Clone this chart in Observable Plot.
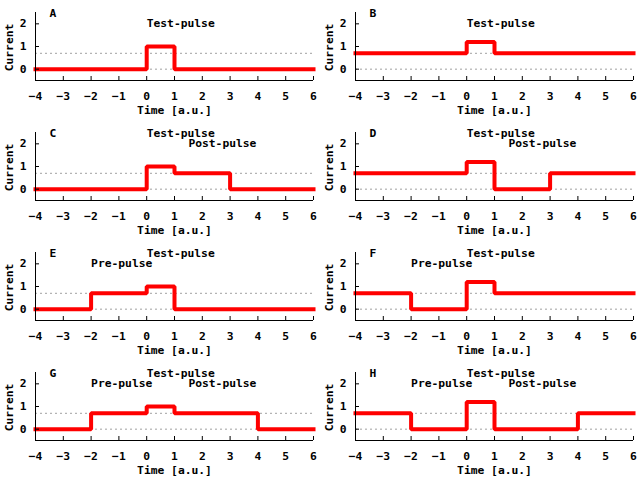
<!DOCTYPE html>
<html>
<head>
<meta charset="utf-8">
<script src="https://cdn.jsdelivr.net/npm/d3@7"></script>
<script src="https://cdn.jsdelivr.net/npm/@observablehq/plot@0.6"></script>
<style>
  html, body { margin: 0; padding: 0; background: #fff; }
  #grid { display: grid; grid-template-columns: 320px 320px; width: 640px; }
  #grid svg { display: block; }
</style>
</head>
<body>
<div id="grid"></div>
<script>
const letters = ["A", "B", "C", "D", "E", "F", "G", "H"];
const stepTimes = [
  [-4, 0, 1, 6],
  [-4, 0, 1, 6],
  [-4, 0, 1, 3, 6],
  [-4, 0, 1, 3, 6],
  [-4, -2, 0, 1, 6],
  [-4, -2, 0, 1, 6],
  [-4, -2, 0, 1, 4, 6],
  [-4, -2, 0, 1, 4, 6]
];
const stepLevels = [
  [0, 1, 0, 0],
  [0.7, 1.2, 0.7, 0.7],
  [0, 1, 0.7, 0, 0],
  [0.7, 1.2, 0, 0.7, 0.7],
  [0, 0.7, 1, 0, 0],
  [0.7, 0, 1.2, 0.7, 0.7],
  [0, 0.7, 1, 0.7, 0, 0],
  [0.7, 0, 1.2, 0, 0.7, 0.7]
];
const annTexts = [
  ["Test-pulse"],
  ["Test-pulse"],
  ["Test-pulse", "Post-pulse"],
  ["Test-pulse", "Post-pulse"],
  ["Test-pulse", "Pre-pulse"],
  ["Test-pulse", "Pre-pulse"],
  ["Test-pulse", "Pre-pulse", "Post-pulse"],
  ["Test-pulse", "Pre-pulse", "Post-pulse"]
];
const annX = [
  [0], [0], [0, 1.5], [0, 1.5], [0, -2], [0, -2], [0, -2, 1.5], [0, -2, 1.5]
];
const annY = [
  [2], [2], [2.45, 2], [2.45, 2], [2.45, 2], [2.45, 2], [2.45, 2, 2], [2.45, 2, 2]
];
const letterX = -3.5;
const letterY = 2.45;
const refLevels = [0, 0.7];
const xTicks = [-4, -3, -2, -1, 0, 1, 2, 3, 4, 5, 6];
const yTicks = [0, 1, 2];
const xDomain = [-4, 6];
const yDomain = [-0.5, 2.5];

const font = "'DejaVu Sans Mono', monospace";
const container = document.getElementById("grid");

letters.forEach((letter, i) => {
  const steps = stepTimes[i].map((t, j) => ({t, v: stepLevels[i][j]}));
  const anns = annTexts[i].map((s, j) => ({s, x: annX[i][j], y: annY[i][j]}));
  const chart = Plot.plot({
    width: 320,
    height: 120,
    marginLeft: 35,
    marginRight: 7,
    marginTop: 12,
    marginBottom: 40,
    style: {fontFamily: font, fontSize: "11.3px", fontWeight: "bold", background: "#fff", color: "#000"},
    x: {domain: xDomain},
    y: {domain: yDomain},
    marks: [
      Plot.ruleY(refLevels, {stroke: "#a0a0a0", strokeWidth: 1, strokeDasharray: "2,3"}),
      Plot.line(steps, {x: "t", y: "v", curve: "step-after", stroke: "#ff0000", strokeWidth: 4, strokeLinecap: "square", strokeLinejoin: "miter"}),
      Plot.ruleY([yDomain[0]], {stroke: "#000", strokeWidth: 1}),
      Plot.ruleX([xDomain[0]], {stroke: "#000", strokeWidth: 1}),
      Plot.tickX(xTicks, {x: (d) => d, stroke: "#000", strokeWidth: 1, insetTop: 64}),
      Plot.tickY(yTicks, {y: (d) => d, stroke: "#000", strokeWidth: 1, insetRight: 274}),
      Plot.axisX({ticks: xTicks, tickSize: 0, tickPadding: 11.5, label: null, tickFormat: "d", fill: "#000"}),
      Plot.axisY({ticks: yTicks, tickSize: 0, tickPadding: 9, label: null, tickFormat: "d", fill: "#000"}),
      Plot.text(["Time [a.u.]"], {frameAnchor: "bottom", lineAnchor: "top", dy: 25, fill: "#000"}),
      Plot.text(["Current"], {frameAnchor: "left", textAnchor: "middle", rotate: -90, dx: -26, dy: 1, fill: "#000"}),
      Plot.text([letter], {x: () => letterX, y: () => letterY, textAnchor: "start", fill: "#000"}),
      Plot.text(anns, {x: "x", y: "y", text: "s", textAnchor: "start", fill: "#000"})
    ]
  });
  container.appendChild(chart);
});
</script>
</body>
</html>
